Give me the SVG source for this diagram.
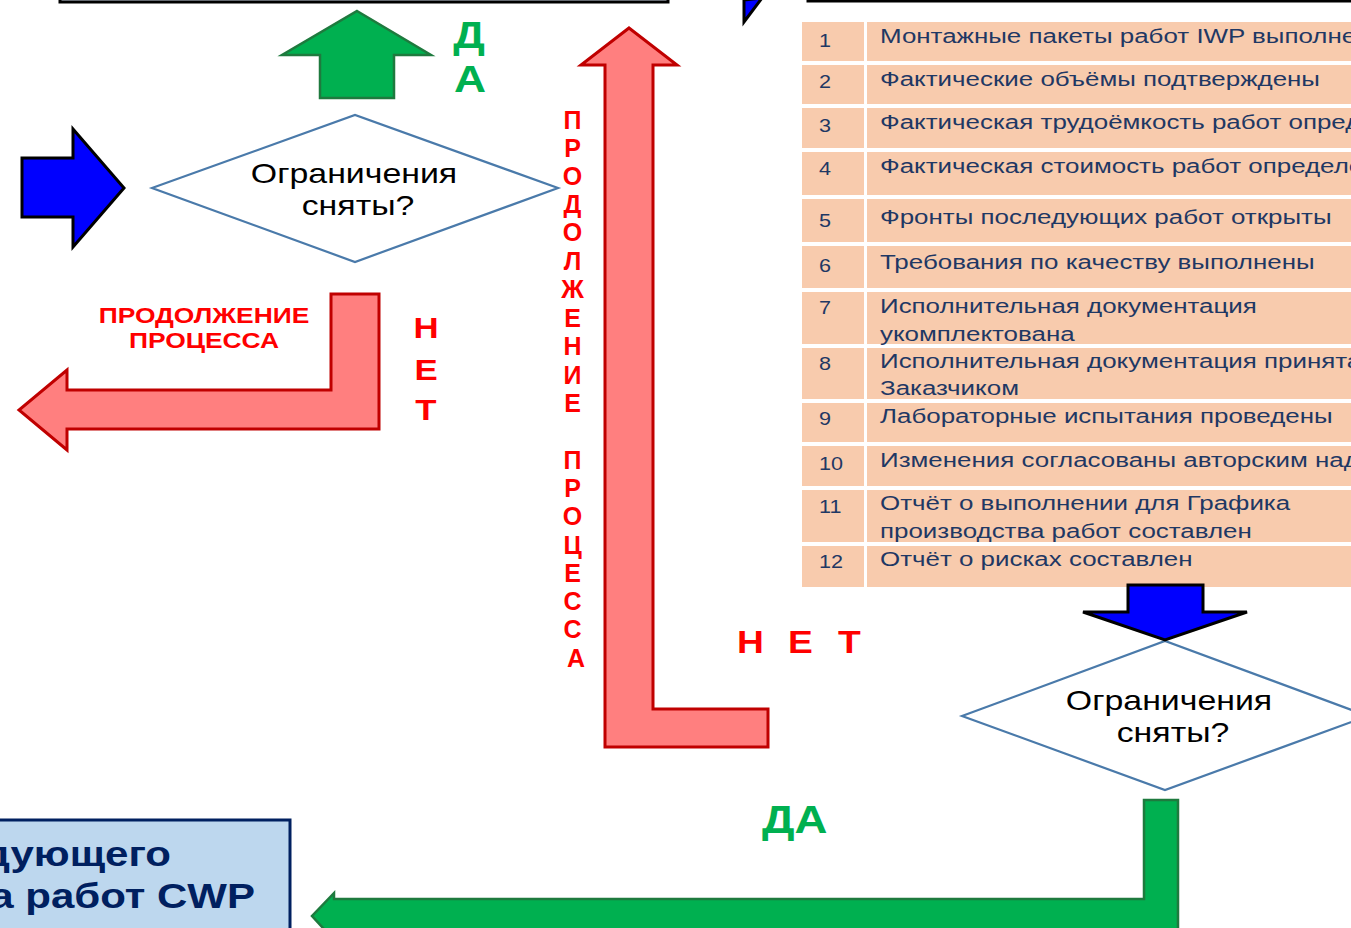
<svg xmlns="http://www.w3.org/2000/svg" width="1351" height="928" viewBox="0 0 1351 928">
  <style>
    .t { font-family: "Liberation Sans", Arial, sans-serif; }
    .row { fill: #F8CBAD; }
    .cell { fill: #1F3864; font-size: 21px; }
    .num { fill: #1F3864; font-size: 18px; }
    .dia { fill: #FFFFFF; stroke: #4A7AAA; stroke-width: 2.2; }
    .dtxt { fill: #000000; font-size: 28px; text-anchor: middle; }
    .red { fill: #FF7F7F; stroke: #C00000; stroke-width: 3; }
    .green { fill: #00B050; stroke: #1E7A3E; stroke-width: 2.5; }
    .blue { fill: #0000FF; stroke: #000000; stroke-width: 3; }
    .rtxt { fill: #FF0000; font-weight: bold; }
    .gtxt { fill: #00B050; font-weight: bold; }
  </style>

  <!-- upper boxes, only their lower edges are inside the sheet -->
  <g id="node-top-left">
    <rect x="60" y="-60" width="608" height="62" fill="#C9D4E2" stroke="#000000" stroke-width="3"/>
  </g>
  <g id="node-top-right">
    <rect x="808" y="-60" width="600" height="61" fill="#FFFFFF" stroke="#000000" stroke-width="3"/>
  </g>

  <!-- checklist table -->
  <g id="node-checklist">
    <g>
      <rect class="row" x="802" y="22" width="62" height="39"/>
      <rect class="row" x="867" y="22" width="490" height="39"/>
      <rect class="row" x="802" y="65" width="62" height="39"/>
      <rect class="row" x="867" y="65" width="490" height="39"/>
      <rect class="row" x="802" y="108" width="62" height="40"/>
      <rect class="row" x="867" y="108" width="490" height="40"/>
      <rect class="row" x="802" y="152" width="62" height="43"/>
      <rect class="row" x="867" y="152" width="490" height="43"/>
      <rect class="row" x="802" y="199" width="62" height="43"/>
      <rect class="row" x="867" y="199" width="490" height="43"/>
      <rect class="row" x="802" y="246" width="62" height="42"/>
      <rect class="row" x="867" y="246" width="490" height="42"/>
      <rect class="row" x="802" y="292" width="62" height="52"/>
      <rect class="row" x="867" y="292" width="490" height="52"/>
      <rect class="row" x="802" y="348" width="62" height="51"/>
      <rect class="row" x="867" y="348" width="490" height="51"/>
      <rect class="row" x="802" y="403" width="62" height="39"/>
      <rect class="row" x="867" y="403" width="490" height="39"/>
      <rect class="row" x="802" y="446" width="62" height="40"/>
      <rect class="row" x="867" y="446" width="490" height="40"/>
      <rect class="row" x="802" y="490" width="62" height="52"/>
      <rect class="row" x="867" y="490" width="490" height="52"/>
      <rect class="row" x="802" y="546" width="62" height="41"/>
      <rect class="row" x="867" y="546" width="490" height="41"/>
    </g>
    <g class="t num">
      <text transform="translate(819 47) scale(1.2 1)">1</text>
      <text transform="translate(819 88) scale(1.2 1)">2</text>
      <text transform="translate(819 132) scale(1.2 1)">3</text>
      <text transform="translate(819 175) scale(1.2 1)">4</text>
      <text transform="translate(819 227) scale(1.2 1)">5</text>
      <text transform="translate(819 272) scale(1.2 1)">6</text>
      <text transform="translate(819 314) scale(1.2 1)">7</text>
      <text transform="translate(819 370) scale(1.2 1)">8</text>
      <text transform="translate(819 425) scale(1.2 1)">9</text>
      <text transform="translate(819 470) scale(1.2 1)">10</text>
      <text transform="translate(819 513) scale(1.2 1)">11</text>
      <text transform="translate(819 568) scale(1.2 1)">12</text>
    </g>
    <g class="t cell">
      <text transform="translate(880 43) scale(1.235 1)">Монтажные пакеты работ IWP выполнены</text>
      <text transform="translate(880 86) scale(1.235 1)">Фактические объёмы подтверждены</text>
      <text transform="translate(880 129) scale(1.235 1)">Фактическая трудоёмкость работ определена</text>
      <text transform="translate(880 173) scale(1.235 1)">Фактическая стоимость работ определена</text>
      <text transform="translate(880 224) scale(1.235 1)">Фронты последующих работ открыты</text>
      <text transform="translate(880 269) scale(1.235 1)">Требования по качеству выполнены</text>
      <text transform="translate(880 313) scale(1.235 1)">Исполнительная документация</text>
      <text transform="translate(880 341) scale(1.235 1)">укомплектована</text>
      <text transform="translate(880 368) scale(1.235 1)">Исполнительная документация принята</text>
      <text transform="translate(880 395) scale(1.235 1)">Заказчиком</text>
      <text transform="translate(880 423) scale(1.235 1)">Лабораторные испытания проведены</text>
      <text transform="translate(880 467) scale(1.235 1)">Изменения согласованы авторским надзором</text>
      <text transform="translate(880 510) scale(1.235 1)">Отчёт о выполнении для Графика</text>
      <text transform="translate(880 538) scale(1.235 1)">производства работ составлен</text>
      <text transform="translate(880 566) scale(1.235 1)">Отчёт о рисках составлен</text>
    </g>
  </g>

  <!-- decision: left -->
  <g id="node-decision-left">
    <polygon class="dia" points="152,188 355,115 558,188 355,262"/>
    <text class="t dtxt" transform="translate(354 183) scale(1.21 1)">Ограничения</text>
    <text class="t dtxt" transform="translate(358 215) scale(1.21 1)">сняты?</text>
  </g>

  <!-- decision: right -->
  <g id="node-decision-right">
    <polygon class="dia" points="962,716 1165,641 1368,716 1165,790"/>
    <text class="t dtxt" transform="translate(1169 710) scale(1.21 1)">Ограничения</text>
    <text class="t dtxt" transform="translate(1173 742) scale(1.21 1)">сняты?</text>
  </g>

  <!-- next construction work package -->
  <g id="node-next-cwp">
    <rect x="-20" y="820" width="310" height="140" fill="#BDD7EE" stroke="#002060" stroke-width="3"/>
    <text class="t" fill="#002060" font-size="35" font-weight="bold" text-anchor="end" transform="translate(171 866) scale(1.2 1)">следующего</text>
    <text class="t" fill="#002060" font-size="35" font-weight="bold" text-anchor="end" transform="translate(255 908) scale(1.2 1)">пакета работ CWP</text>
  </g>

  <!-- flow arrows -->
  <g id="connectors">
    <polygon class="blue" points="744,0 762,-2 744,22"/>
    <polygon class="green" points="357,11 431,55 394,55 394,98 320,98 320,55 282,55"/>
    <polygon class="blue" points="22,158 73,158 73,129 124,188 73,247 73,217 22,217"/>
    <polygon class="red" points="331,294 379,294 379,429 67,429 67,450 19,410 67,370 67,390 331,390"/>
    <polygon class="red" points="629,28 677,65 653,65 653,709 768,709 768,747 605,747 605,65 581,65"/>
    <polygon class="blue" points="1128,585 1203,585 1203,612 1247,612 1165,640 1083,612 1128,612"/>
    <polygon class="green" points="1144,800 1178,800 1178,940 334,940 312,916 334,893 334,899 1144,899"/>
  </g>

  <!-- branch labels -->
  <g id="labels">
    <text class="t gtxt" font-size="37" text-anchor="middle" transform="translate(469 48) scale(1.2 1)">Д</text>
    <text class="t gtxt" font-size="37" text-anchor="middle" transform="translate(470 92) scale(1.2 1)">А</text>
    <text class="t rtxt" font-size="22" text-anchor="middle" transform="translate(204 323) scale(1.2 1)">ПРОДОЛЖЕНИЕ</text>
    <text class="t rtxt" font-size="22" text-anchor="middle" transform="translate(204 348) scale(1.2 1)">ПРОЦЕССА</text>
    <text class="t rtxt" font-size="29" text-anchor="middle" transform="translate(426 338) scale(1.2 1)">Н</text>
    <text class="t rtxt" font-size="29" text-anchor="middle" transform="translate(426 380) scale(1.2 1)">Е</text>
    <text class="t rtxt" font-size="29" text-anchor="middle" transform="translate(426 420) scale(1.2 1)">Т</text>
    <text class="t rtxt" font-size="25" text-anchor="middle">
      <tspan x="576" y="129">П</tspan>
      <tspan x="576" y="157">Р</tspan>
      <tspan x="576" y="185">О</tspan>
      <tspan x="576" y="213">Д</tspan>
      <tspan x="576" y="241">О</tspan>
      <tspan x="576" y="270">Л</tspan>
      <tspan x="576" y="298">Ж</tspan>
      <tspan x="576" y="327">Е</tspan>
      <tspan x="576" y="355">Н</tspan>
      <tspan x="576" y="384">И</tspan>
      <tspan x="576" y="412">Е</tspan>
      <tspan x="576" y="469">П</tspan>
      <tspan x="576" y="497">Р</tspan>
      <tspan x="576" y="525">О</tspan>
      <tspan x="576" y="554">Ц</tspan>
      <tspan x="576" y="582">Е</tspan>
      <tspan x="576" y="610">С</tspan>
      <tspan x="576" y="638">С</tspan>
      <tspan x="576" y="667">А</tspan>
    </text>
    <text class="t rtxt" font-size="31" transform="translate(737 653) scale(1.2 1)">Н</text>
    <text class="t rtxt" font-size="31" transform="translate(788 653) scale(1.2 1)">Е</text>
    <text class="t rtxt" font-size="31" transform="translate(838 653) scale(1.2 1)">Т</text>
    <text class="t gtxt" font-size="38" transform="translate(762 833) scale(1.2 1)">ДА</text>
  </g>
</svg>
